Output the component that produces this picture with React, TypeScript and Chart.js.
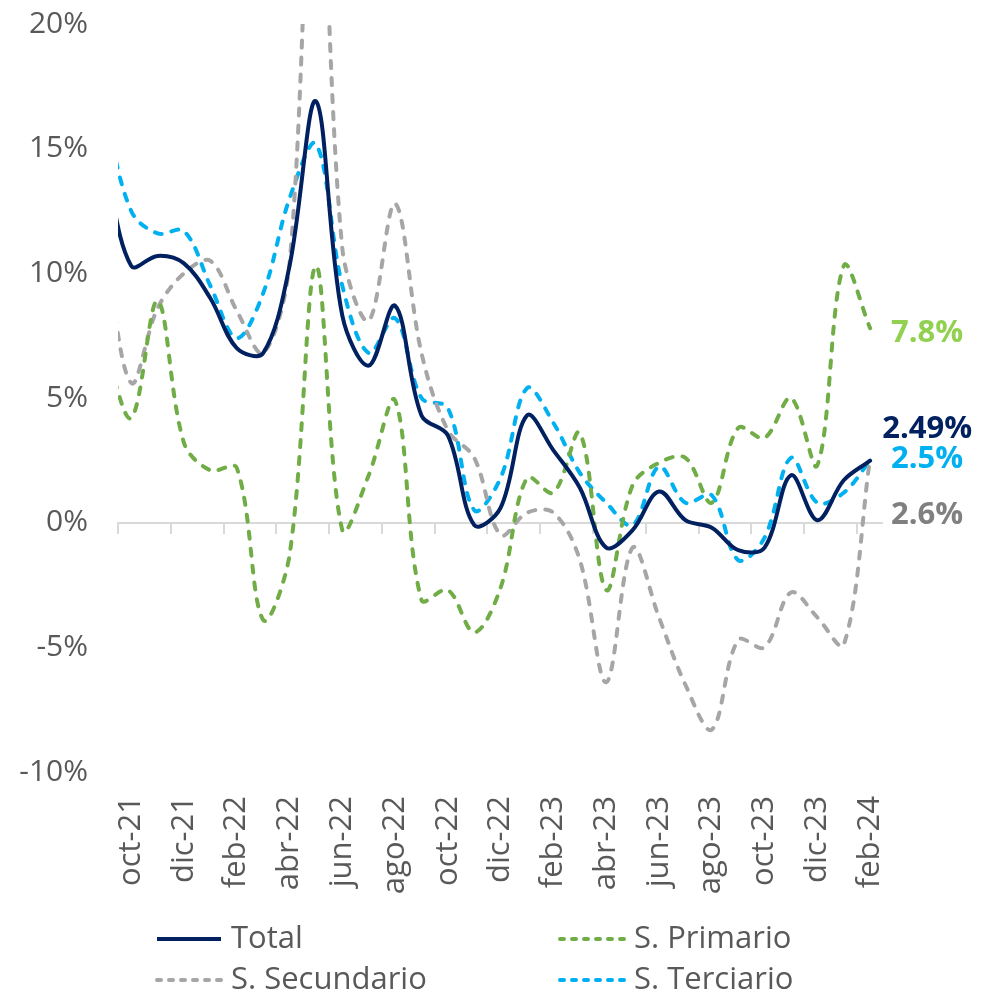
import React, { useEffect, useRef } from 'react';
import { Chart, registerables } from 'chart.js';

Chart.register(...registerables);

// Monthly series; the first month (sep-21) lies just left of the axis and is clipped.
const months = [
  'sep-21', 'oct-21', 'nov-21', 'dic-21', 'ene-22', 'feb-22', 'mar-22', 'abr-22', 'may-22', 'jun-22',
  'jul-22', 'ago-22', 'sep-22', 'oct-22', 'nov-22', 'dic-22', 'ene-23', 'feb-23', 'mar-23', 'abr-23',
  'may-23', 'jun-23', 'jul-23', 'ago-23', 'sep-23', 'oct-23', 'nov-23', 'dic-23', 'ene-24', 'feb-24',
];

const tickLabels = [
  'oct-21', 'dic-21', 'feb-22', 'abr-22', 'jun-22', 'ago-22', 'oct-22', 'dic-22',
  'feb-23', 'abr-23', 'jun-23', 'ago-23', 'oct-23', 'dic-23', 'feb-24',
];

const total = [
  14.5, 10.3, 10.7, 10.4, 9.0, 7.0, 6.8, 10.3, 16.9, 8.3,
  6.3, 8.7, 4.3, 3.5, -0.1, 0.6, 4.3, 2.9, 1.4, -1.0,
  -0.3, 1.25, 0.1, -0.2, -1.1, -1.0, 1.9, 0.1, 1.7, 2.49,
];

const primario = [
  7.0, 4.2, 8.9, 3.2, 2.1, 2.2, -3.9, -1.3, 10.3, -0.3,
  1.9, 4.9, -3.1, -2.7, -4.4, -2.6, 1.8, 1.2, 3.6, -2.7,
  1.5, 2.4, 2.6, 0.8, 3.8, 3.4, 5.0, 2.3, 10.3, 7.8,
];

const secundario = [
  11.0, 5.6, 8.6, 10.0, 10.5, 8.5, 6.8, 10.4, 30.0, 11.0,
  8.1, 12.8, 6.8, 3.7, 2.6, -0.5, 0.4, 0.4, -1.5, -6.4,
  -1.0, -3.8, -6.5, -8.3, -4.7, -5.0, -2.8, -3.8, -4.9, 2.6,
];

const terciario = [
  16.5, 12.5, 11.6, 11.7, 9.5, 7.4, 9.2, 13.0, 15.2, 9.5,
  6.8, 8.2, 5.0, 4.6, 0.5, 1.8, 5.4, 4.0, 2.0, 0.8,
  -0.1, 2.25, 0.8, 1.1, -1.5, -0.6, 2.6, 0.8, 1.2, 2.5,
];

const seriesNames = ['Total', 'S. Primario', 'S. Secundario', 'S. Terciario'];
const endLabels = ['2.49%', '7.8%', '2.6%', '2.5%'];

const yTicks = { min: -10, max: 20, step: 5 };

const FONT = '"Open Sans", "DejaVu Sans", sans-serif';
const TEXT = '#595959';

const toXY = (vals: number[]) => vals.map((v, i) => ({ x: i - 1, y: v }));

const setTicks = (scale: any) => {
  scale.ticks = tickLabels.map((_, j) => ({ value: -0.5 + 2 * j }));
};

const endLabelPlugin = {
  id: 'endLabels',
  afterDatasetsDraw(chart: any, _args: any, opts: any) {
    const ctx = chart.ctx;
    chart.data.datasets.forEach((_ds: any, i: number) => {
      const meta = chart.getDatasetMeta(i);
      const pt = meta.data[meta.data.length - 1];
      if (!pt) return;
      ctx.save();
      ctx.font = `bold 31px ${FONT}`;
      ctx.fillStyle = opts.colors[i];
      ctx.textAlign = 'center';
      ctx.textBaseline = 'middle';
      ctx.fillText(endLabels[i], pt.x + opts.dx, pt.y + opts.dy[i]);
      ctx.restore();
    });
  },
};

const gridLegendPlugin = {
  id: 'gridLegend',
  afterDraw(chart: any, _args: any, opts: any) {
    const ctx = chart.ctx;
    chart.data.datasets.forEach((ds: any, i: number) => {
      const col = i % 2;
      const row = Math.floor(i / 2);
      const x0 = opts.x[col];
      const y = opts.y[row];
      ctx.save();
      ctx.strokeStyle = ds.borderColor;
      ctx.lineWidth = 4;
      const dashed = ds.borderDash && ds.borderDash.length > 0;
      ctx.setLineDash(dashed ? opts.dash : []);
      ctx.lineCap = dashed ? 'round' : 'butt';
      ctx.beginPath();
      ctx.moveTo(x0, y);
      ctx.lineTo(x0 + opts.sampleWidth, y);
      ctx.stroke();
      ctx.setLineDash([]);
      ctx.fillStyle = TEXT;
      ctx.font = `31px ${FONT}`;
      ctx.textAlign = 'left';
      ctx.textBaseline = 'middle';
      ctx.fillText(ds.label, x0 + opts.sampleWidth + 10, y);
      ctx.restore();
    });
  },
};

export default function App() {
  const ref = useRef<HTMLCanvasElement | null>(null);

  useEffect(() => {
    if (!ref.current) return;
    document.body.style.margin = '0';
    Chart.defaults.font.family = FONT;
    const dash = [7, 10];
    const chart = new Chart(ref.current, {
      type: 'line',
      data: {
        datasets: [
          {
            label: seriesNames[0],
            data: toXY(total),
            borderColor: '#002060',
            borderWidth: 4,
            borderDash: [],
            borderCapStyle: 'round',
            borderJoinStyle: 'round',
          },
          {
            label: seriesNames[1],
            data: toXY(primario),
            borderColor: '#70AD47',
            borderWidth: 4,
            borderDash: dash,
            borderCapStyle: 'round',
          },
          {
            label: seriesNames[2],
            data: toXY(secundario),
            borderColor: '#A6A6A6',
            borderWidth: 4,
            borderDash: dash,
            borderCapStyle: 'round',
          },
          {
            label: seriesNames[3],
            data: toXY(terciario),
            borderColor: '#00B0F0',
            borderWidth: 4,
            borderDash: dash,
            borderCapStyle: 'round',
          },
        ],
      } as any,
      options: {
        animation: false,
        responsive: true,
        maintainAspectRatio: false,
        layout: { padding: { left: 0, right: 102, top: 24, bottom: 0 } },
        datasets: { line: { clip: 0 } as any },
        elements: {
          point: { radius: 0, hoverRadius: 0 },
          line: { tension: 0.35, capBezierPoints: false, fill: false },
        },
        plugins: {
          legend: { display: false },
          tooltip: { enabled: false },
          endLabels: {
            colors: ['#002060', '#92D050', '#808080', '#00B0F0'],
            dx: 57,
            dy: [-31, 5, 57, -1],
          },
          gridLegend: {
            x: [157, 560],
            y: [939, 980],
            sampleWidth: 64,
            dash: [4, 8],
          },
        } as any,
        scales: {
          x: {
            type: 'linear',
            min: -0.5,
            max: 28.45,
            afterBuildTicks: setTicks,
            afterFit: (s: any) => {
              s.height = 224;
            },
            grid: { display: false, drawTicks: false },
            border: { display: false },
            ticks: {
              autoSkip: false,
              minRotation: 90,
              maxRotation: 90,
              padding: 24,
              labelOffset: 13,
              color: TEXT,
              font: { size: 31 },
              callback: (_v: any, i: number) => tickLabels[i],
            },
          },
          x2: {
            type: 'linear',
            position: { y: 0 },
            min: -0.5,
            max: 28.45,
            afterBuildTicks: setTicks,
            grid: {
              display: true,
              drawOnChartArea: false,
              drawTicks: true,
              tickLength: 10,
              color: '#D9D9D9',
              lineWidth: 2,
            },
            border: { display: true, color: '#D9D9D9', width: 2 },
            ticks: { display: false },
          },
          y: {
            type: 'linear',
            min: yTicks.min,
            max: yTicks.max,
            afterFit: (s: any) => {
              s.width = 118;
            },
            grid: { display: false, drawTicks: true, tickLength: 30 },
            border: { display: false },
            ticks: {
              stepSize: yTicks.step,
              padding: 0,
              color: TEXT,
              font: { size: 30, lineHeight: 1 },
              callback: (v: any) => `${v}%`,
            },
          },
        } as any,
      },
      plugins: [endLabelPlugin, gridLegendPlugin],
    });
    return () => chart.destroy();
  }, []);

  return (
    <div style={{ width: 984, height: 996, position: 'relative' }}>
      <canvas ref={ref} />
    </div>
  );
}
